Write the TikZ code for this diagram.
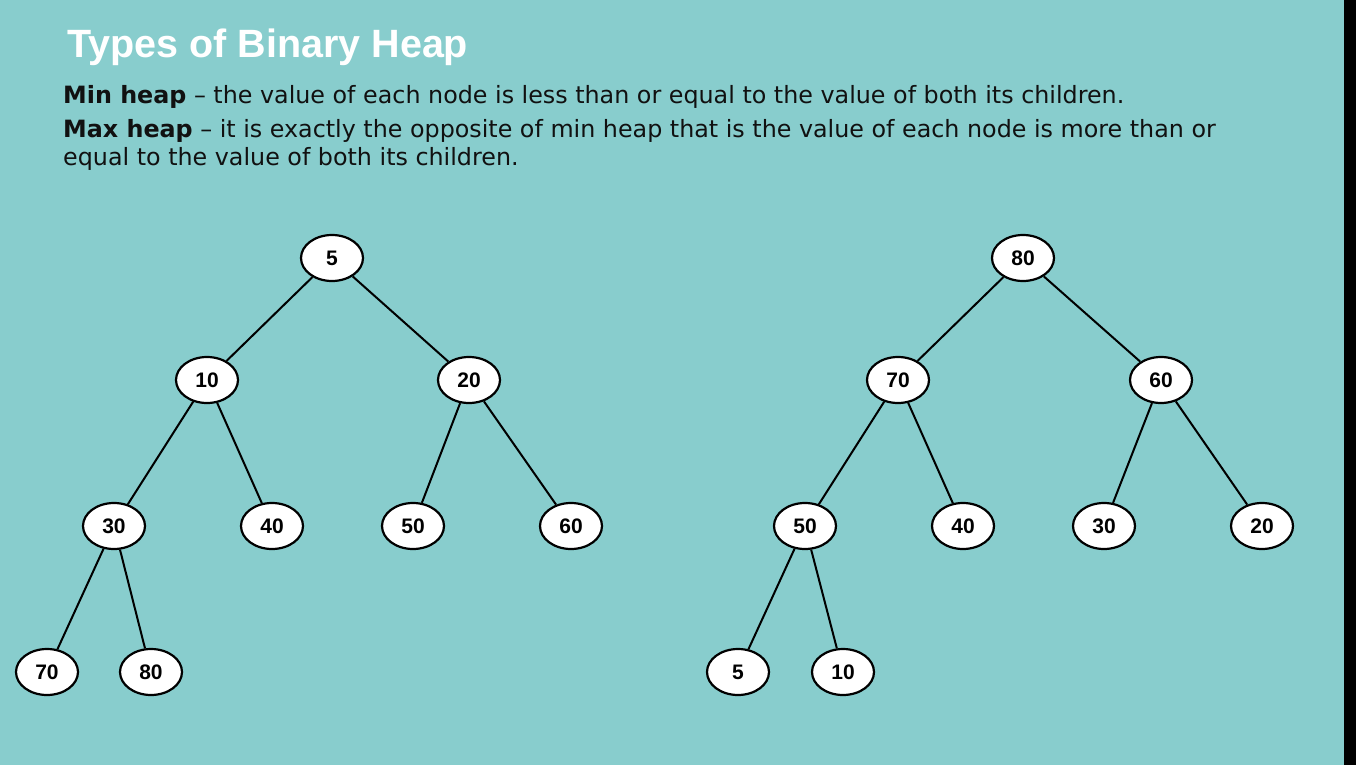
\documentclass[tikz,border=0pt]{standalone}
\usepackage{fontspec}
\usetikzlibrary{shapes.geometric}
\setmainfont{DejaVu Sans}
\newfontfamily\headfont{Liberation Sans}
\definecolor{slidebg}{HTML}{88CDCD}
\definecolor{inkdark}{HTML}{111111}

\begin{document}
\begin{tikzpicture}[x=1pt,y=-1pt,
    heapnode/.style={draw=black,fill=white,ellipse,line width=2.2pt,minimum width=62pt,minimum height=46pt,inner sep=0pt,font=\headfont\bfseries\fontsize{21}{21}\selectfont},
    heapedge/.style={line width=2pt,draw=black},
    bodyline/.style={anchor=base west,inkdark,font=\fontsize{23.8}{23.8}\selectfont,inner sep=0pt}]
    \fill[slidebg] (0,0) rectangle (1356,765);
    \fill[black] (1344,0) rectangle (1356,765);
    \useasboundingbox (0,0) rectangle (1356,765);
    \node[anchor=base west,inner sep=0pt,white,font=\headfont\bfseries\fontsize{39.5}{39.5}\selectfont] (title) at (67,58) {Types of Binary Heap};
    \node[bodyline] (minline) at (63,104) {\textbf{Min heap} -- the value of each node is less than or equal to the value of both its children.};
    \node[bodyline] (maxline) at (63,137) {\textbf{Max heap} -- it is exactly the opposite of min heap that is the value of each node is more than or};
    \node[bodyline] (maxwrap) at (63,165) {equal to the value of both its children.};
    % min heap
    \node[heapnode] (n5) at (332,258) {5};
    \node[heapnode] (n10) at (207,380) {10};
    \node[heapnode] (n20) at (469,380) {20};
    \node[heapnode] (n30) at (114,526) {30};
    \node[heapnode] (n40) at (272,526) {40};
    \node[heapnode] (n50) at (413,526) {50};
    \node[heapnode] (n60) at (571,526) {60};
    \node[heapnode] (n70) at (47,672) {70};
    \node[heapnode] (n80) at (151,672) {80};
    \draw[heapedge] (n5) -- (n10);
    \draw[heapedge] (n5) -- (n20);
    \draw[heapedge] (n10) -- (n30);
    \draw[heapedge] (n10) -- (n40);
    \draw[heapedge] (n20) -- (n50);
    \draw[heapedge] (n20) -- (n60);
    \draw[heapedge] (n30) -- (n70);
    \draw[heapedge] (n30) -- (n80);
    % max heap
    \node[heapnode] (x80) at (1023,258) {80};
    \node[heapnode] (x70) at (898,380) {70};
    \node[heapnode] (x60) at (1161,380) {60};
    \node[heapnode] (x50) at (805,526) {50};
    \node[heapnode] (x40) at (963,526) {40};
    \node[heapnode] (x30) at (1104,526) {30};
    \node[heapnode] (x20) at (1262,526) {20};
    \node[heapnode] (x5) at (738,672) {5};
    \node[heapnode] (x10) at (843,672) {10};
    \draw[heapedge] (x80) -- (x70);
    \draw[heapedge] (x80) -- (x60);
    \draw[heapedge] (x70) -- (x50);
    \draw[heapedge] (x70) -- (x40);
    \draw[heapedge] (x60) -- (x30);
    \draw[heapedge] (x60) -- (x20);
    \draw[heapedge] (x50) -- (x5);
    \draw[heapedge] (x50) -- (x10);
\end{tikzpicture}
\end{document}
